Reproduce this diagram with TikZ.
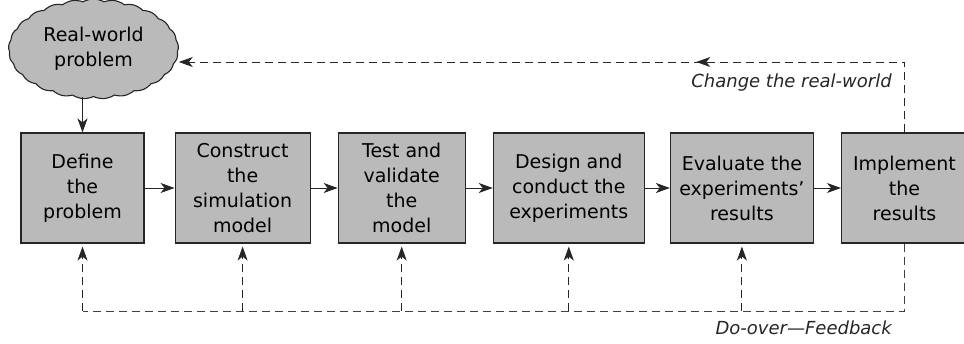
\documentclass[tikz,border=0pt]{standalone}
\usepackage{fontspec}
\setmainfont{DejaVu Sans}
\usetikzlibrary{arrows.meta,positioning,shapes.symbols,decorations.markings}

\begin{document}
\begin{tikzpicture}[x=1pt, y=-1pt,
  stage/.style={rectangle, draw=black!85, fill=black!27, line width=1.1pt, minimum height=110pt, align=center, inner sep=2pt, font=\fontsize{19}{25}\selectfont},
  problem/.style={cloud, cloud puffs=25, cloud puff arc=60, aspect=1.75, draw=black!85, fill=black!27, line width=1.1pt, minimum width=170pt, minimum height=100pt, inner sep=0pt, align=center, font=\fontsize{19}{25}\selectfont},
  flow/.style={-{Stealth[length=14pt, width=10pt, inset=4pt]}, line width=0.9pt, draw=black!85},
  feedback/.style={line width=0.9pt, draw=black!75, dash pattern=on 8pt off 5pt},
  note/.style={font=\fontsize{18}{22}\selectfont\itshape, text=black!85, inner sep=0pt}
]
\useasboundingbox (0,0) rectangle (964,344);
\node[problem] (world) at (93.5,49) {Real-world\\problem};
\node[stage, minimum width=123pt] (define) at (82.5,188) {Define\\the\\problem};
\node[stage, minimum width=135pt, right=30pt of define] (construct) {Construct\\the\\simulation\\model};
\node[stage, minimum width=127pt, right=27pt of construct] (validate) {Test and\\validate\\the\\model};
\node[stage, minimum width=151pt, right=27pt of validate] (design) {Design and\\conduct the\\experiments};
\node[stage, minimum width=143pt, right=25pt of design] (evaluate) {Evaluate the\\experiments'\\results};
\node[stage, minimum width=126pt, right=27pt of evaluate] (implement) {Implement\\the\\results};
% main flow
\draw[flow] (world.south -| define.north) -- (define.north);
\draw[flow] (define) -- (construct);
\draw[flow] (construct) -- (validate);
\draw[flow] (validate) -- (design);
\draw[flow] (design) -- (evaluate);
\draw[flow] (evaluate) -- (implement);
% feedback loops
\coordinate (fbbase) at (0,311);
\coordinate (topbase) at (0,62);
\draw[feedback] (implement.south) |- (define.south |- fbbase);
\foreach \n in {define,construct,validate,design,evaluate}
  \draw[feedback, flow, shorten >=3pt] (\n.south |- fbbase) -- (\n.south);
\draw[feedback, flow, postaction={decorate}, decoration={markings, mark=at position 0.35 with {\arrow{Stealth[length=14pt, width=10pt, inset=4pt]}}}] (implement.north) |- (world.east |- topbase);
\node[note, anchor=east] (changelbl) at (892,83) {Change the real-world};
\node[note, anchor=east] (redolbl) at (892,328) {Do-over---Feedback};
\end{tikzpicture}
\end{document}
